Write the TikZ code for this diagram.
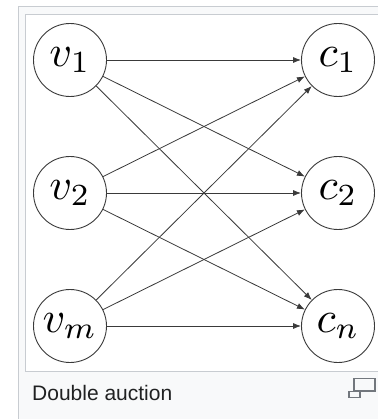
\documentclass[tikz,border=0pt]{standalone}
\usepackage{graphicx}
\usepackage{fontspec}
\newfontfamily\capfont{Liberation Sans}
\usetikzlibrary{arrows.meta}
\definecolor{framebg}{HTML}{F8F9FA}
\definecolor{frameline}{HTML}{C8CCD1}
\definecolor{ink}{HTML}{3A3A3A}
\definecolor{captext}{HTML}{202122}
\definecolor{icongray}{HTML}{72777D}
\newcommand{\biglabel}[1]{\scalebox{4.4}{$#1$}}
\tikzset{
  agent/.style={circle, draw=ink, line width=0.9pt, minimum size=73pt, inner sep=0pt},
  edge/.style={draw=ink, line width=0.8pt, -{Latex[length=8pt,width=6pt]}},
  iconbox/.style={draw=icongray, line width=1.6pt}
}
\begin{document}
\begin{tikzpicture}[x=1pt, y=-1pt]
  \useasboundingbox (0,0) rectangle (378,419);
  % thumbnail frame
  \fill[framebg] (18,7) rectangle (378,419);
  \draw[frameline, line width=1pt] (18,419) -- (18,7) -- (378,7);
  \fill[white] (25,15) rectangle (378,371);
  \draw[frameline, line width=1pt] (378,371) -- (25,371) -- (25,15) -- (378,15);
  % buyers and sellers
  \node[agent] (v1) at (70,60)  {\biglabel{v_1}};
  \node[agent] (v2) at (70,193) {\biglabel{v_2}};
  \node[agent] (vm) at (70,326) {\biglabel{v_m}};
  \node[agent] (c1) at (338,60)  {\biglabel{c_1}};
  \node[agent] (c2) at (338,193) {\biglabel{c_2}};
  \node[agent] (cn) at (338,326) {\biglabel{c_n}};
  % every buyer to every seller
  \foreach \s in {v1,v2,vm}
    \foreach \t in {c1,c2,cn}
      \draw[edge] (\s) -- (\t);
  % caption
  \node[anchor=base west, inner sep=0pt, text=captext, font=\capfont\fontsize{21}{24}\selectfont]
    (cap) at (32,400) {Double auction};
  % enlarge icon
  \draw[iconbox] (354,378.5) rectangle (375,391);
  \draw[iconbox, fill=framebg] (349,391.5) rectangle (360,397.5);
\end{tikzpicture}
\end{document}
